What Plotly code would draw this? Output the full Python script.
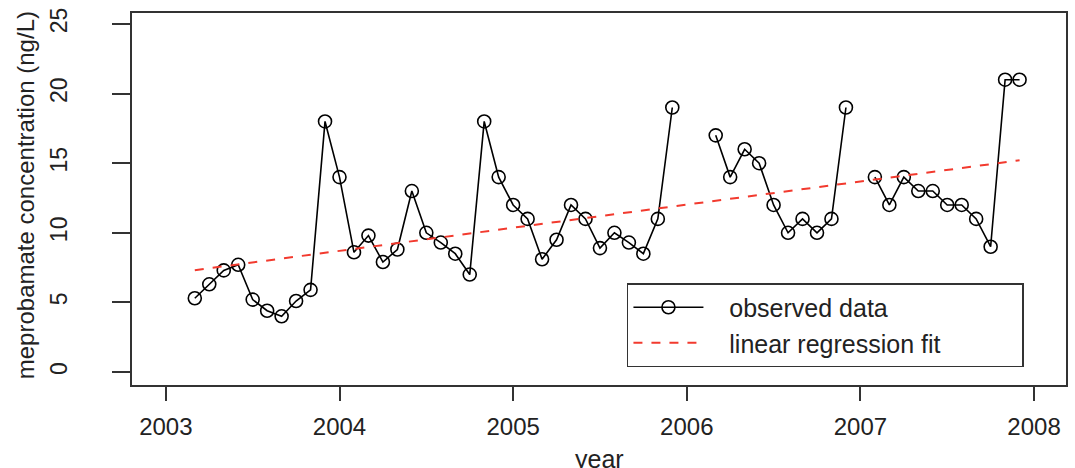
import numpy as np
import plotly.graph_objects as go

# Monthly samples, March 2003 .. December 2007 (None = no sample)
start_year = 2003
start_month = 3  # March
values = [
    # 2003 Mar..Dec
    5.3, 6.3, 7.3, 7.7, 5.2, 4.4, 4.0, 5.1, 5.9, 18.0,
    # 2004
    14.0, 8.6, 9.8, 7.9, 8.8, 13.0, 10.0, 9.3, 8.5, 7.0, 18.0, 14.0,
    # 2005
    12.0, 11.0, 8.1, 9.5, 12.0, 11.0, 8.9, 10.0, 9.3, 8.5, 11.0, 19.0,
    # 2006
    None, None, 17.0, 14.0, 16.0, 15.0, 12.0, 10.0, 11.0, 10.0, 11.0, 19.0,
    # 2007
    None, 14.0, 12.0, 14.0, 13.0, 13.0, 12.0, 12.0, 11.0, 9.0, 21.0, 21.0,
]
x_ticks = [2003, 2004, 2005, 2006, 2007, 2008]
y_ticks = [0, 5, 10, 15, 20, 25]
series_names = ["observed data", "linear regression fit"]

years = [start_year + (start_month - 1 + i) / 12.0 for i in range(len(values))]

# linear regression fit on observed points
xs = np.array([x for x, v in zip(years, values) if v is not None])
ys = np.array([v for v in values if v is not None])
slope, intercept = np.polyfit(xs, ys, 1)
fit_x = [xs.min(), xs.max()]
fit_y = [intercept + slope * x for x in fit_x]

FONT = "Liberation Sans, Arial, sans-serif"
TXT = "#222222"
AX = "#333333"
NB = "\u00a0"

fig = go.Figure()
fig.add_trace(go.Scatter(
    x=years, y=values, mode="lines+markers", name=NB * 3 + series_names[0],
    connectgaps=False,
    line=dict(color="black", width=1.6),
    marker=dict(symbol="circle-open", size=13, color="black", line=dict(width=1.6)),
))
fig.add_trace(go.Scatter(
    x=fit_x, y=fit_y, mode="lines", name=NB * 3 + series_names[1] + NB * 11,
    line=dict(color="#f23a2e", width=2, dash="dash"),
))

fig.update_layout(
    width=1075, height=468,
    margin=dict(l=132, r=7, t=13, b=83),
    paper_bgcolor="white", plot_bgcolor="white",
    font=dict(family=FONT, color=TXT, size=24),
    showlegend=True,
    legend=dict(
        x=(628 - 132) / 936, y=(385 - 283) / 372, xanchor="left", yanchor="top",
        bordercolor=AX, borderwidth=1.5, bgcolor="white",
        font=dict(size=25, family=FONT, color=TXT),
        itemwidth=70, tracegroupgap=0,
    ),
    xaxis=dict(
        range=[2002.805, 2008.184], tickvals=x_ticks, ticktext=[str(t) for t in x_ticks],
        showgrid=False, zeroline=False, showline=True, mirror=True,
        linecolor=AX, linewidth=1.5, ticks="outside", ticklen=14, tickwidth=1.5,
        tickcolor=AX, ticklabelstandoff=5, tickfont=dict(size=24),
    ),
    yaxis=dict(
        range=[-0.934, 25.79], tickvals=y_ticks, ticktext=[str(t) for t in y_ticks],
        showgrid=False, zeroline=False, showline=True, mirror=True,
        linecolor=AX, linewidth=1.5, ticks="outside", ticklen=18, tickwidth=1.5,
        tickcolor=AX, tickangle=-90, ticklabelstandoff=36, tickfont=dict(size=23),
    ),
    annotations=[
        dict(text="year", xref="paper", yref="paper", x=0.5, y=-(459 - 385) / 372,
             xanchor="center", yanchor="middle", showarrow=False,
             font=dict(size=25, family=FONT, color=TXT)),
        dict(text="meprobamate concentration (ng/L)", xref="paper", yref="paper",
             x=-(132 - 25) / 936, y=(385 - 195) / 372, textangle=-90,
             xanchor="center", yanchor="middle", showarrow=False,
             font=dict(size=24, family=FONT, color=TXT)),
    ],
)

fig.write_html("out.html")
